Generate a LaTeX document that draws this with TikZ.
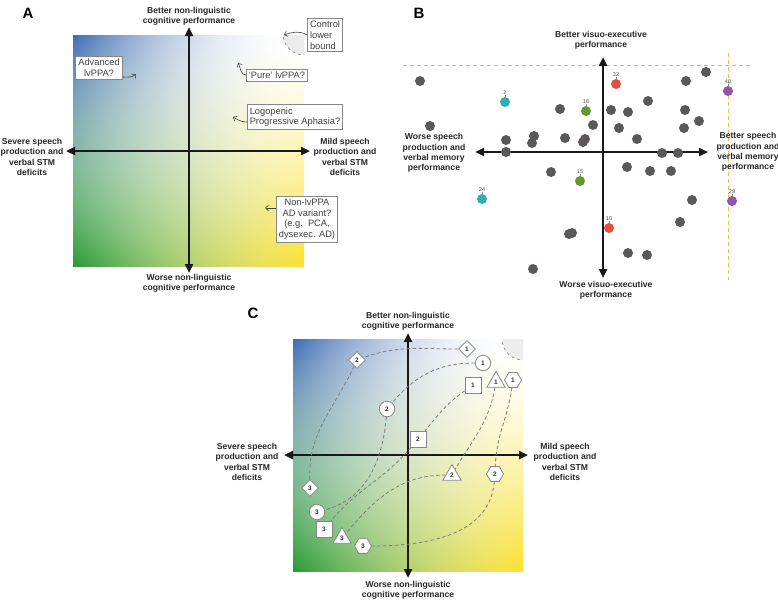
\documentclass[tikz,border=0pt]{standalone}
\usepackage{fontspec}
\setmainfont{Liberation Sans}
\usepackage{xcolor}
\usepackage{tikz}
\usetikzlibrary{shapes.geometric, arrows.meta, positioning, calc}

\definecolor{dotgrey}{RGB}{92,88,88}
\definecolor{dotred}{RGB}{232,76,62}
\definecolor{dotgreen}{RGB}{104,150,44}
\definecolor{dotteal}{RGB}{52,172,176}
\definecolor{dotpurple}{RGB}{150,84,168}
\definecolor{refline}{RGB}{244,184,80}
\definecolor{trailgrey}{RGB}{125,125,125}
\definecolor{boxline}{RGB}{135,135,135}

% corner colours: blue top left, green bottom left, yellow bottom right, white top right
\pgfdeclarefunctionalshading{quadfade}{\pgfpoint{0bp}{0bp}}{\pgfpoint{100bp}{100bp}}{}{
  25 sub 50 div dup abs exch 1 sub abs sub 1 add 2 div
  exch 25 sub 50 div dup abs exch 1 sub abs sub 1 add 2 div
  exch
  1 index 1 exch sub 1 index mul dup mul
  2 index 1 exch sub 2 index 1 exch sub mul dup sqrt mul
  3 index 3 index 1 exch sub mul dup sqrt mul
  2 index 0.76 mul 2 index 0.84 mul add 1 index 0.02 mul add 1 exch sub
  3 index 0.58 mul 3 index 0.40 mul add 2 index 0.12 mul add 1 exch sub
  4 index 0.30 mul 4 index 0.80 mul add 3 index 0.82 mul add 1 exch sub
  8 3 roll pop pop pop pop pop
}

\begin{document}
\begin{tikzpicture}[x=1pt, y=-1pt, >={Triangle[length=9pt,width=8pt]}]
        % Define styles
        \tikzstyle{axis} = [line width=2.6pt, <->, black!90]
        \tikzstyle{axislabel} = [align=center, font=\fontsize{8.6}{10.3}\selectfont\bfseries, text=black!85, inner sep=0pt]
        \tikzstyle{panel} = [font=\fontsize{15}{15}\selectfont\bfseries, inner sep=0pt]
        \tikzstyle{note} = [rectangle, draw=boxline, fill=white, line width=0.7pt, text=black!75, inner sep=2.5pt, font=\fontsize{9.3}{10.8}\selectfont]
        \tikzstyle{pointer} = [line width=0.6pt, black!75, -{Straight Barb[length=3pt,width=5.5pt]}]
        \tikzstyle{case} = [circle, fill=dotgrey, minimum size=10pt, inner sep=0pt]
        \tikzstyle{idlabel} = [font=\fontsize{5.5}{5.5}\selectfont, text=black!70, inner sep=0.5pt]
        \tikzstyle{leader} = [line width=0.35pt, black!50]
        \tikzstyle{refdash} = [refline, dash pattern=on 4pt off 3pt, line width=0.8pt]
        \tikzstyle{stage} = [draw=boxline, fill=white, line width=0.8pt, inner sep=0pt, text=black!80, font=\fontsize{6.5}{6.5}\selectfont\bfseries]
        \tikzstyle{stagecirc} = [stage, circle, minimum size=15.5pt]
        \tikzstyle{stagesq} = [stage, rectangle, minimum size=16pt]
        \tikzstyle{stagedia} = [stage, diamond, minimum size=17pt]
        \tikzstyle{stagetri} = [stage, regular polygon, regular polygon sides=3, minimum size=21pt]
        \tikzstyle{stagehex} = [stage, regular polygon, regular polygon sides=6, minimum size=17pt]
        \tikzstyle{trail} = [trailgrey, line width=0.8pt, dash pattern=on 3.5pt off 2.5pt]

        \useasboundingbox (0,0) rectangle (778,600);

        % Panel A: hypothesised subgroups
        \node (lblA) [panel] at (28,13) {A};
        \shade[shading=quadfade] (73,35) rectangle (304,266);
        \begin{scope}
            \clip (73,35) rectangle (304,266);
            \fill[black!8] (304,34) circle[radius=21];
            \draw[trailgrey, dashed, line width=0.6pt] (304,34) circle[radius=21];
        \end{scope}
        \coordinate (aN) at (189,27);
        \coordinate (aS) at (189,273);
        \coordinate (aW) at (66,151);
        \coordinate (aE) at (310,151);
        \draw[axis] (aS) -- (aN);
        \draw[axis] (aW) -- (aE);
        \node (aNlab) [axislabel] at (189,16) {Better non-linguistic\\cognitive performance};
        \node (aSlab) [axislabel] at (189,283) {Worse non-linguistic\\cognitive performance};
        \node (aWlab) [axislabel] at (32,157) {Severe speech\\production and\\verbal STM\\deficits};
        \node (aElab) [axislabel] at (345,157) {Mild speech\\production and\\verbal STM\\deficits};

        \node (ctrl) [note, align=left] at (325,35) {Control\\lower\\bound};
        \node (pure) [note] at (277,75) {`Pure' lvPPA?};
        \node (lpa) [note, align=left] at (295,117) {Logopenic\\Progressive Aphasia?};
        \node (adv) [note, align=center] at (99,68) {Advanced\\lvPPA?};
        \node (nonlv) [note, align=center] at (307,219) {Non-lvPPA\\AD variant?\\(e.g.\ \ PCA,\\dysexec. AD)};
        \coordinate (ctrltip) at (284,35);
        \coordinate (puretip) at (238,63);
        \coordinate (lpatip) at (233,117);
        \coordinate (advtip) at (136,74);
        \coordinate (nonlvtip) at (265,208);
        \draw[pointer] (ctrl.west) to[out=150, in=20] (ctrltip);
        \draw[pointer] (pure.west) to[out=180, in=-60] (puretip);
        \draw[pointer] ([yshift=-5pt]lpa.west) to[out=180, in=-30] (lpatip);
        \draw[pointer] ([yshift=-9pt]adv.east) to[out=0, in=225] (advtip);
        \draw[pointer] ([yshift=11pt]nonlv.west) -- (nonlvtip);

        % Panel B: individual scores
        \node (lblB) [panel] at (419,13) {B};
        \coordinate (refL) at (403,65);
        \coordinate (refR) at (750,65);
        \coordinate (refT) at (728,53);
        \coordinate (refB) at (728,280);
        \draw[refdash] (refL) -- (refR);
        \draw[refdash] (refT) -- (refB);
        \coordinate (bN) at (603,57);
        \coordinate (bS) at (603,278);
        \coordinate (bW) at (475,152);
        \coordinate (bE) at (708,152);
        \draw[axis] (bS) -- (bN);
        \draw[axis] (bW) -- (bE);
        \node (bNlab) [axislabel] at (601,40) {Better visuo-executive\\performance};
        \node (bSlab) [axislabel] at (606,290) {Worse visuo-executive\\performance};
        \node (bWlab) [axislabel] at (434,153) {Worse speech\\production and\\verbal memory\\performance};
        \node (bElab) [axislabel] at (748,152) {Better speech\\production and\\verbal memory\\performance};

        \node (g1) [case] at (420,81) {};   \node (g2) [case] at (430,126) {};  \node (g3) [case] at (506,140) {};
        \node (g4) [case] at (506,152) {};  \node (g5) [case] at (534,136) {};  \node (g6) [case] at (532,143) {};
        \node (g7) [case] at (560,109) {};  \node (g8) [case] at (565,138) {};  \node (g9) [case] at (585,139) {};
        \node (g10) [case] at (583,142) {}; \node (g11) [case] at (593,125) {}; \node (g12) [case] at (551,172) {};
        \node (g13) [case] at (572,233) {}; \node (g14) [case] at (569,234) {}; \node (g15) [case] at (533,269) {};
        \node (g16) [case] at (611,110) {}; \node (g17) [case] at (628,112) {}; \node (g18) [case] at (648,101) {};
        \node (g19) [case] at (619,128) {}; \node (g20) [case] at (637,139) {}; \node (g21) [case] at (627,167) {};
        \node (g22) [case] at (650,171) {}; \node (g23) [case] at (671,171) {}; \node (g24) [case] at (662,153) {};
        \node (g25) [case] at (678,153) {}; \node (g26) [case] at (686,81) {};  \node (g27) [case] at (706,72) {};
        \node (g28) [case] at (685,110) {}; \node (g29) [case] at (699,121) {}; \node (g30) [case] at (684,128) {};
        \node (g31) [case] at (692,200) {}; \node (g32) [case] at (680,222) {}; \node (g33) [case] at (628,253) {};
        \node (g34) [case] at (647,255) {};

        \node (c32) [case, fill=dotred] at (616,84) {};
        \node (c10) [case, fill=dotred] at (609,228) {};
        \node (c18) [case, fill=dotgreen] at (586,111) {};
        \node (c15) [case, fill=dotgreen] at (580,181) {};
        \node (c2) [case, fill=dotteal] at (505,102) {};
        \node (c24) [case, fill=dotteal] at (482,199) {};
        \node (c40) [case, fill=dotpurple] at (728,91) {};
        \node (c29) [case, fill=dotpurple] at (732,201) {};
        \node (l32) [idlabel, above=2pt of c32] {32};
        \node (l10) [idlabel, above=2pt of c10] {10};
        \node (l18) [idlabel, above=2pt of c18] {18};
        \node (l15) [idlabel, above=2pt of c15] {15};
        \node (l2) [idlabel, above=2pt of c2] {2};
        \node (l24) [idlabel, above=2pt of c24] {24};
        \node (l40) [idlabel, above=2pt of c40] {40};
        \node (l29) [idlabel, above=2pt of c29] {29};
        \draw[leader] (l32) -- (c32);
        \draw[leader] (l10) -- (c10);
        \draw[leader] (l18) -- (c18);
        \draw[leader] (l15) -- (c15);
        \draw[leader] (l2) -- (c2);
        \draw[leader] (l24) -- (c24);
        \draw[leader] (l40) -- (c40);
        \draw[leader] (l29) -- (c29);

        % Panel C: progression over time
        \node (lblC) [panel] at (253,313) {C};
        \shade[shading=quadfade] (293,339) rectangle (523,571);
        \begin{scope}
            \clip (293,339) rectangle (523,571);
            \fill[black!7] (523,339) circle[radius=21];
            \draw[trailgrey, dashed, line width=0.6pt] (523,339) circle[radius=21];
        \end{scope}
        \coordinate (cN) at (408,333);
        \coordinate (cS) at (408,578);
        \coordinate (cW) at (284,455);
        \coordinate (cE) at (528,455);
        \draw[axis] (cS) -- (cN);
        \draw[axis] (cW) -- (cE);
        \node (cNlab) [axislabel] at (408,321) {Better non-linguistic\\cognitive performance};
        \node (cSlab) [axislabel] at (408,590) {Worse non-linguistic\\cognitive performance};
        \node (cWlab) [axislabel] at (247,462) {Severe speech\\production and\\verbal STM\\deficits};
        \node (cElab) [axislabel] at (565,462) {Mild speech\\production and\\verbal STM\\deficits};

        \node (d1) [stagedia] at (467,349) {1};
        \node (d2) [stagedia] at (357,360) {2};
        \node (d3) [stagedia] at (310,488) {3};
        \node (o1) [stagecirc] at (483,363) {1};
        \node (o2) [stagecirc] at (387,409) {2};
        \node (o3) [stagecirc] at (317,512) {3};
        \node (s1) [stagesq] at (473,385) {1};
        \node (s2) [stagesq] at (418,439) {2};
        \node (s3) [stagesq] at (324,529) {3};
        \node (t1) [stagetri] at (496,382) {1};
        \node (t2) [stagetri] at (452,475) {2};
        \node (t3) [stagetri] at (342,538) {3};
        \node (h1) [stagehex] at (513,380) {1};
        \node (h2) [stagehex] at (495,474) {2};
        \node (h3) [stagehex] at (363,546) {3};

        \draw[trail] (d1) to[out=180, in=20] (d2);
        \draw[trail] (d2) to[out=245, in=92] (d3);
        \draw[trail] (o1) to[out=180, in=50] (o2);
        \draw[trail] (o2) to[out=265, in=15] (o3);
        \draw[trail] (s1) to[out=215, in=50] (s2);
        \draw[trail] (s2) to[out=230, in=50] (s3);
        \draw[trail] (t1) to[out=260, in=60] (t2);
        \draw[trail] (t2) to[out=180, in=50] (t3);
        \draw[trail] (h1) to[out=262, in=88] (h2);
        \draw[trail] (h2) to[out=265, in=0] (h3);
    \end{tikzpicture}
\end{document}
